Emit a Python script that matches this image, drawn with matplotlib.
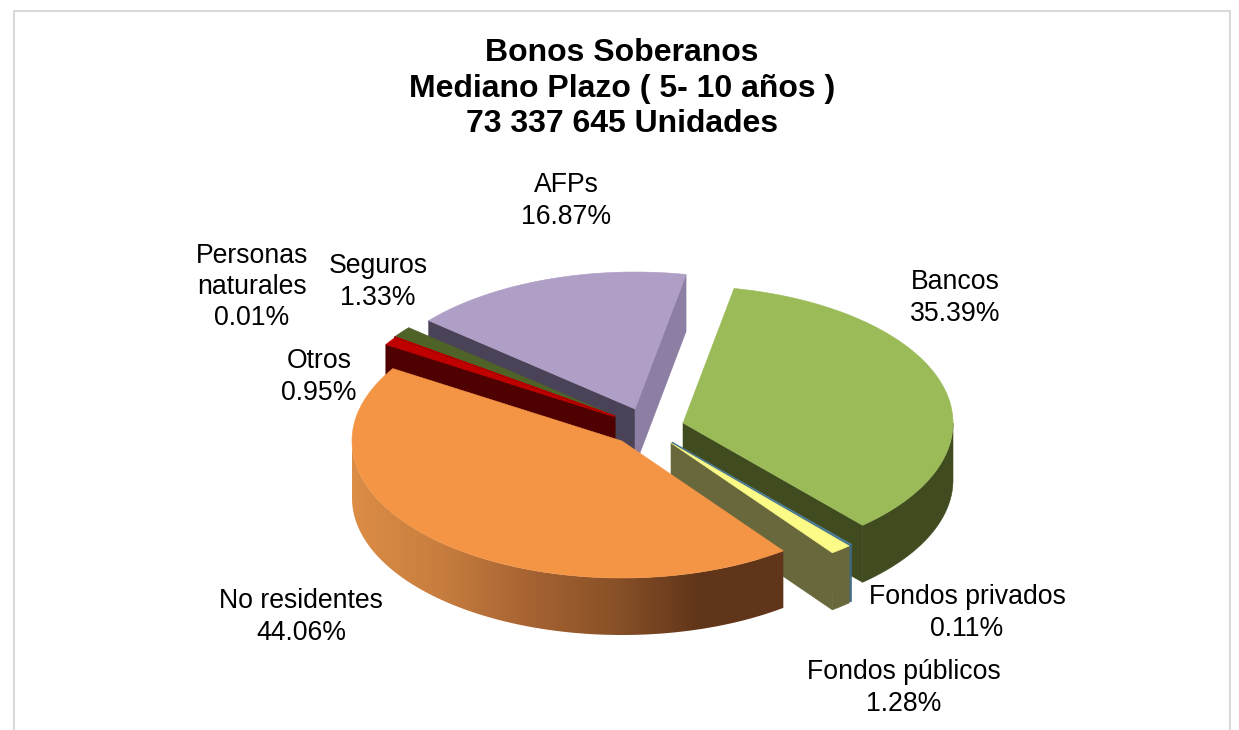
import matplotlib
matplotlib.use('Agg')
import matplotlib.pyplot as plt
from matplotlib.colors import LinearSegmentedColormap
from matplotlib.patches import Polygon
import numpy as np

plt.rcParams['font.family'] = ['Liberation Sans', 'DejaVu Sans']

# values, clockwise from the top
names = ['Bancos', 'Fondos privados', 'Fondos públicos', 'No residentes',
         'Otros', 'Personas\nnaturales', 'Seguros', 'AFPs']
shares = [35.39, 0.11, 1.28, 44.06, 0.95, 0.01, 1.33, 16.87]
title_lines = ['Bonos Soberanos', 'Mediano Plazo ( 5- 10 años )', '73 337 645 Unidades']

# look of each slice
top_colors = ['#9bbb59', '#4f81a0', '#fdfb87', '#f49545', '#c00000', '#c00000', '#4f6228', '#af9ec5']
left_face = ['#404c20', '#3f6a85', '#68683c', '#8a5228', '#4f0000', '#4f0000', '#3c4a1e', '#4a4358']
right_face = ['#404c20', '#3f6a85', '#68683c', '#8a5228', '#4f0000', '#4f0000', '#3c4a1e', '#8d7ea3']
explode_x = [61, 50, 49, 0, -7, -7, -7, 13]
explode_y = [-18, 1, 2, 0, -24, -25, -25, -32]
label_x = [955, 967, 904, 301, 319, 252, 378, 566]
label_y = [298, 613, 688, 617, 377, 287, 282, 201]
draw_order = [7, 6, 5, 4, 0, 1, 2, 3]

# pie drawn as a tilted disc, in picture pixels
cx, cy = 622, 441
rx, ry = 270, 137
depth = 57
start_angle = 79.1

fig = plt.figure(figsize=(12.39, 7.30), dpi=100, facecolor='white')
ax = fig.add_axes([0, 0, 1, 1])


def rim(angles, ox, oy, drop=0):
    rad = np.radians(angles)
    return np.column_stack([cx + ox + rx * np.cos(rad), cy + oy - ry * np.sin(rad) + drop])


def add_poly(points, color, zorder):
    patch = Polygon(points, closed=True, facecolor=color, edgecolor=color, linewidth=0.4, zorder=zorder)
    ax.add_patch(patch)
    return patch


ends = start_angle - np.cumsum(shares) * 3.6
starts = np.concatenate([[start_angle], ends[:-1]])
wall_map = LinearSegmentedColormap.from_list(
    'wall', ['#dc8d46', '#c87e3e', '#a86433', '#8a5228', '#62361a', '#603519'])

z = 1
for i in draw_order:
    hi, lo = starts[i], ends[i]
    ox, oy = explode_x[i], explode_y[i]
    apex = np.array([[cx + ox, cy + oy]])
    apex_low = apex + [0, depth]

    # cut faces, only those turned towards the viewer
    if np.cos(np.radians(hi)) < 0:
        add_poly(np.vstack([apex, rim([hi], ox, oy), rim([hi], ox, oy, depth), apex_low]), left_face[i], z)
    if np.cos(np.radians(lo)) > 0:
        add_poly(np.vstack([apex, rim([lo], ox, oy), rim([lo], ox, oy, depth), apex_low]), right_face[i], z)
    z += 1

    # outer wall, front half of the disc only
    theta = np.linspace(lo, hi, 600)
    theta = theta[np.sin(np.radians(theta)) <= 0]
    if len(theta) > 1:
        wall = np.vstack([rim(theta, ox, oy), rim(theta[::-1], ox, oy, depth)])
        if names[i] == 'No residentes':
            patch = add_poly(wall, 'none', z)
            patch.set_edgecolor('none')
            img = ax.imshow(np.linspace(0, 1, 256).reshape(1, -1), cmap=wall_map, aspect='auto',
                            extent=(wall[:, 0].min(), wall[:, 0].max(), wall[:, 1].max(), wall[:, 1].min()),
                            zorder=z)
            img.set_clip_path(patch)
        else:
            add_poly(wall, right_face[i], z)
    z += 1

    # top face
    theta = np.linspace(lo, hi, 300)
    add_poly(np.vstack([apex, rim(theta, ox, oy)]), top_colors[i], z)
    z += 1

ax.set_xlim(0, 1239)
ax.set_ylim(730, 0)
ax.axis('off')

# chart frame, cut by the bottom of the picture
ax.plot([14, 14, 1230, 1230], [730, 11, 11, 730], color='#d9d9d9', lw=1.5, zorder=0)

for i, name in enumerate(names):
    ax.text(label_x[i], label_y[i], f'{name}\n{shares[i]:.2f}%', ha='center', va='center',
            fontsize=19.2, linespacing=1.27, color='black', zorder=50)

ax.text(622, 88.5, '\n'.join(title_lines), ha='center', va='center', fontsize=23,
        fontweight='bold', linespacing=1.26, color='black', zorder=50)

fig.savefig('out.png', dpi=100, facecolor='white')
